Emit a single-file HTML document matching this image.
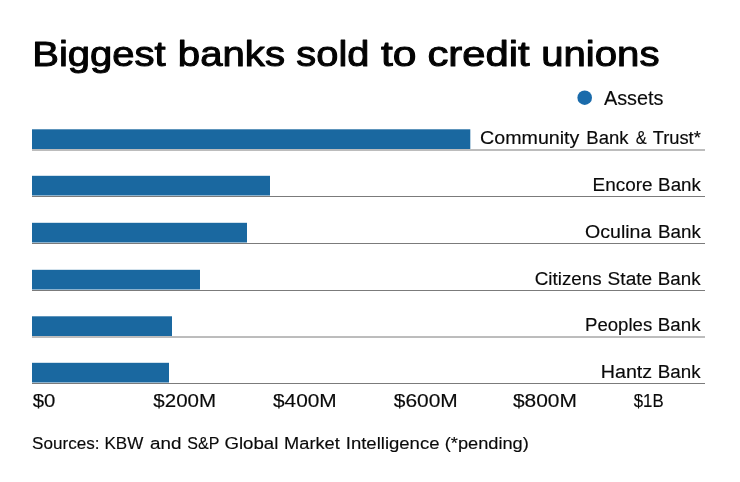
<!DOCTYPE html>
<html lang="en">
<head>
<meta charset="utf-8">
<title>Biggest banks sold to credit unions</title>
<style>
html,body{margin:0;padding:0;background:#fff;}
body{width:740px;height:482px;overflow:hidden;}
svg{display:block;will-change:transform;}
svg text{font-family:"Liberation Sans",Arial,Helvetica,sans-serif;font-weight:normal;}
</style>
</head>
<body>
<svg width="740" height="482" viewBox="0 0 740 482" role="img" aria-label="Biggest banks sold to credit unions">
<rect x="0" y="0" width="740" height="482" fill="#ffffff"/>
<g id="rows">
<rect x="32" y="129.30" width="438.3" height="19.7" fill="#1a68a0"/>
<line x1="32" y1="150.00" x2="705" y2="150.00" stroke="#7b7b7b" stroke-width="1"/>
<rect x="32" y="175.80" width="238.0" height="19.7" fill="#1a68a0"/>
<line x1="32" y1="196.50" x2="705" y2="196.50" stroke="#7b7b7b" stroke-width="1"/>
<rect x="32" y="222.80" width="215.0" height="19.7" fill="#1a68a0"/>
<line x1="32" y1="243.50" x2="705" y2="243.50" stroke="#7b7b7b" stroke-width="1"/>
<rect x="32" y="269.80" width="168.0" height="19.7" fill="#1a68a0"/>
<line x1="32" y1="290.50" x2="705" y2="290.50" stroke="#7b7b7b" stroke-width="1"/>
<rect x="32" y="316.30" width="140.0" height="19.7" fill="#1a68a0"/>
<line x1="32" y1="337.00" x2="705" y2="337.00" stroke="#7b7b7b" stroke-width="1"/>
<rect x="32" y="362.80" width="137.0" height="19.7" fill="#1a68a0"/>
<line x1="32" y1="383.50" x2="705" y2="383.50" stroke="#7b7b7b" stroke-width="1"/>
</g>
<circle cx="584.7" cy="97.7" r="7.3" fill="#1a6bab"/>
<text id="title" y="65.70" font-size="35.2" fill="#030303" stroke="#030303" stroke-width="1.0" stroke-linejoin="round"><tspan x="32.22" textLength="133.48" lengthAdjust="spacingAndGlyphs">Biggest</tspan> <tspan x="177.81" textLength="107.24" lengthAdjust="spacingAndGlyphs">banks</tspan> <tspan x="296.39" textLength="72.97" lengthAdjust="spacingAndGlyphs">sold</tspan> <tspan x="380.96" textLength="35.53" lengthAdjust="spacingAndGlyphs">to</tspan> <tspan x="427.42" textLength="102.28" lengthAdjust="spacingAndGlyphs">credit</tspan> <tspan x="541.19" textLength="118.36" lengthAdjust="spacingAndGlyphs">unions</tspan></text>
<text id="legend" y="104.50" font-size="20.6" fill="#0a0a0a" stroke="#0a0a0a" stroke-width="0.15" stroke-linejoin="round"><tspan x="603.94" textLength="59.61" lengthAdjust="spacingAndGlyphs">Assets</tspan></text>
<text id="row1" y="144.40" font-size="17.6" fill="#0a0a0a" stroke="#0a0a0a" stroke-width="0.15" stroke-linejoin="round"><tspan x="480.08" textLength="99.29" lengthAdjust="spacingAndGlyphs">Community</tspan> <tspan x="586.35" textLength="42.24" lengthAdjust="spacingAndGlyphs">Bank</tspan> <tspan x="635.70" textLength="10.99" lengthAdjust="spacingAndGlyphs">&amp;</tspan> <tspan x="652.67" textLength="48.14" lengthAdjust="spacingAndGlyphs">Trust*</tspan></text>
<text id="row2" y="190.90" font-size="17.6" fill="#0a0a0a" stroke="#0a0a0a" stroke-width="0.15" stroke-linejoin="round"><tspan x="592.62" textLength="59.94" lengthAdjust="spacingAndGlyphs">Encore</tspan> <tspan x="658.14" textLength="42.76" lengthAdjust="spacingAndGlyphs">Bank</tspan></text>
<text id="row3" y="237.90" font-size="17.6" fill="#0a0a0a" stroke="#0a0a0a" stroke-width="0.15" stroke-linejoin="round"><tspan x="585.05" textLength="66.28" lengthAdjust="spacingAndGlyphs">Oculina</tspan> <tspan x="658.03" textLength="42.87" lengthAdjust="spacingAndGlyphs">Bank</tspan></text>
<text id="row4" y="284.90" font-size="17.6" fill="#0a0a0a" stroke="#0a0a0a" stroke-width="0.15" stroke-linejoin="round"><tspan x="534.72" textLength="66.88" lengthAdjust="spacingAndGlyphs">Citizens</tspan> <tspan x="607.61" textLength="44.56" lengthAdjust="spacingAndGlyphs">State</tspan> <tspan x="657.83" textLength="42.87" lengthAdjust="spacingAndGlyphs">Bank</tspan></text>
<text id="row5" y="331.40" font-size="17.6" fill="#0a0a0a" stroke="#0a0a0a" stroke-width="0.15" stroke-linejoin="round"><tspan x="585.05" textLength="67.15" lengthAdjust="spacingAndGlyphs">Peoples</tspan> <tspan x="657.83" textLength="42.87" lengthAdjust="spacingAndGlyphs">Bank</tspan></text>
<text id="row6" y="377.90" font-size="17.6" fill="#0a0a0a" stroke="#0a0a0a" stroke-width="0.15" stroke-linejoin="round"><tspan x="600.76" textLength="51.45" lengthAdjust="spacingAndGlyphs">Hantz</tspan> <tspan x="657.83" textLength="42.87" lengthAdjust="spacingAndGlyphs">Bank</tspan></text>
<text id="ax0" y="406.60" font-size="19.2" fill="#0a0a0a" stroke="#0a0a0a" stroke-width="0.15" stroke-linejoin="round"><tspan x="32.71" textLength="22.61" lengthAdjust="spacingAndGlyphs">$0</tspan></text>
<text id="ax1" y="406.60" font-size="19.2" fill="#0a0a0a" stroke="#0a0a0a" stroke-width="0.15" stroke-linejoin="round"><tspan x="153.35" textLength="62.75" lengthAdjust="spacingAndGlyphs">$200M</tspan></text>
<text id="ax2" y="406.60" font-size="19.2" fill="#0a0a0a" stroke="#0a0a0a" stroke-width="0.15" stroke-linejoin="round"><tspan x="272.95" textLength="63.79" lengthAdjust="spacingAndGlyphs">$400M</tspan></text>
<text id="ax3" y="406.60" font-size="19.2" fill="#0a0a0a" stroke="#0a0a0a" stroke-width="0.15" stroke-linejoin="round"><tspan x="393.75" textLength="63.99" lengthAdjust="spacingAndGlyphs">$600M</tspan></text>
<text id="ax4" y="406.60" font-size="19.2" fill="#0a0a0a" stroke="#0a0a0a" stroke-width="0.15" stroke-linejoin="round"><tspan x="512.95" textLength="63.99" lengthAdjust="spacingAndGlyphs">$800M</tspan></text>
<text id="ax5" y="406.60" font-size="19.2" fill="#0a0a0a" stroke="#0a0a0a" stroke-width="0.15" stroke-linejoin="round"><tspan x="633.69" textLength="29.92" lengthAdjust="spacingAndGlyphs">$1B</tspan></text>
<text id="source" y="449.00" font-size="16.9" fill="#0a0a0a" stroke="#0a0a0a" stroke-width="0.15" stroke-linejoin="round"><tspan x="32.10" textLength="67.38" lengthAdjust="spacingAndGlyphs">Sources:</tspan> <tspan x="104.47" textLength="38.91" lengthAdjust="spacingAndGlyphs">KBW</tspan> <tspan x="150.08" textLength="31.36" lengthAdjust="spacingAndGlyphs">and</tspan> <tspan x="187.25" textLength="31.81" lengthAdjust="spacingAndGlyphs">S&amp;P</tspan> <tspan x="224.44" textLength="53.94" lengthAdjust="spacingAndGlyphs">Global</tspan> <tspan x="284.08" textLength="55.68" lengthAdjust="spacingAndGlyphs">Market</tspan> <tspan x="345.77" textLength="93.68" lengthAdjust="spacingAndGlyphs">Intelligence</tspan> <tspan x="444.74" textLength="84.11" lengthAdjust="spacingAndGlyphs">(*pending)</tspan></text>
</svg>
</body>
</html>
